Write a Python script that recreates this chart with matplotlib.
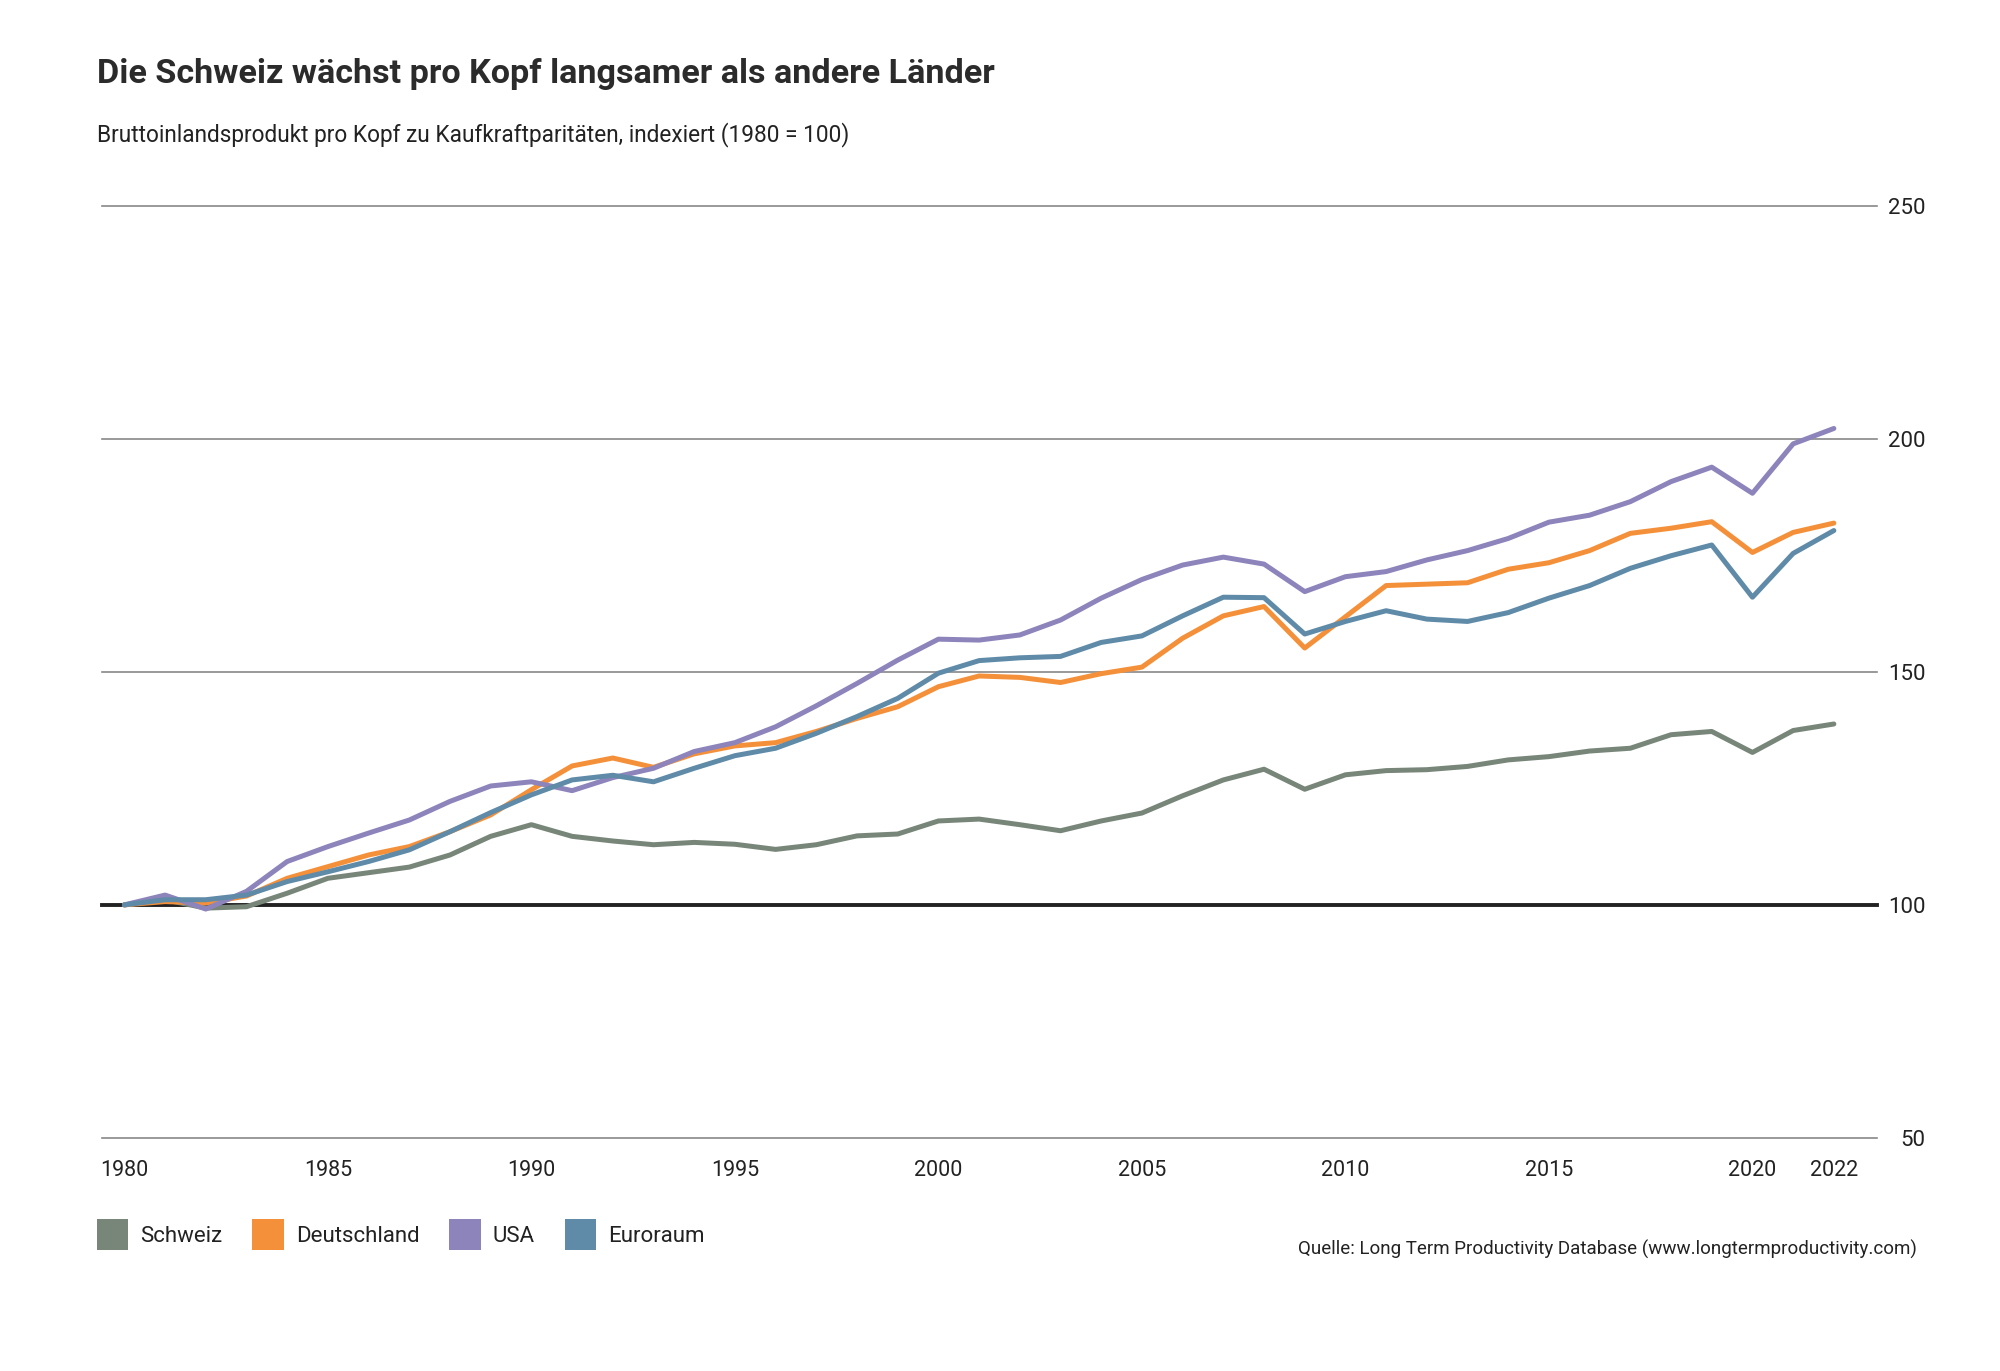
import matplotlib
matplotlib.use("Agg")
import matplotlib.pyplot as plt
from matplotlib.patches import Patch

plt.rcParams["font.family"] = ["Roboto", "DejaVu Sans"]

years = list(range(1980, 2023))

schweiz = [100, 101.1, 99.3, 99.6, 102.5, 105.7, 106.9, 108.1, 110.7, 114.7,
           117.2, 114.7, 113.7, 112.9, 113.4, 113.0, 111.9, 112.9, 114.8, 115.2,
           118.0, 118.4, 117.2, 115.9, 118.0, 119.7, 123.4, 126.8, 129.1, 124.8,
           127.9, 128.8, 129.0, 129.7, 131.1, 131.8, 133.0, 133.6, 136.5, 137.2,
           132.7, 137.4, 138.8]
deutschland = [100, 100.7, 100.4, 101.9, 105.7, 108.2, 110.7, 112.5, 115.7, 119.3,
               124.7, 129.8, 131.5, 129.5, 132.4, 134.1, 134.8, 137.2, 140.0, 142.5,
               146.8, 149.1, 148.8, 147.7, 149.6, 151.0, 157.2, 162.0, 164.0, 155.1,
               161.8, 168.5, 168.8, 169.1, 172.0, 173.4, 176.0, 179.7, 180.8, 182.2,
               175.6, 179.9, 181.9]
usa = [100, 102.1, 99.1, 102.9, 109.3, 112.5, 115.4, 118.2, 122.2, 125.5,
       126.4, 124.5, 127.3, 129.3, 132.9, 134.8, 138.2, 142.7, 147.5, 152.5,
       157.0, 156.8, 157.9, 161.1, 165.8, 169.8, 172.9, 174.6, 173.1, 167.2,
       170.4, 171.5, 174.0, 176.0, 178.6, 182.1, 183.6, 186.5, 190.8, 193.9,
       188.3, 198.9, 202.2]
euroraum = [100, 101.1, 101.1, 102.1, 105.0, 107.1, 109.3, 111.8, 115.7, 119.8,
            123.6, 126.8, 127.8, 126.4, 129.3, 132.0, 133.6, 136.8, 140.4, 144.3,
            149.7, 152.4, 153.0, 153.3, 156.3, 157.7, 162.0, 166.0, 165.9, 158.1,
            160.8, 163.1, 161.3, 160.8, 162.7, 165.8, 168.5, 172.2, 174.9, 177.2,
            166.0, 175.4, 180.3]

labels = ["Schweiz", "Deutschland", "USA", "Euroraum"]
colors = ["#78867a", "#f5903a", "#8d84bb", "#5f8ba8"]

x_ticks = [1980, 1985, 1990, 1995, 2000, 2005, 2010, 2015, 2020, 2022]
y_ticks = [50, 100, 150, 200, 250]

fig = plt.figure(figsize=(20, 13.71), dpi=100)
ax = fig.add_axes([0.051, 0.17, 0.8875, 0.68])

for v in y_ticks:
    if v == 100:
        ax.axhline(v, color="#222222", lw=2.8, zorder=1, clip_on=False)
    else:
        ax.axhline(v, color="#888888", lw=1.2, zorder=1, clip_on=False)

for series, c in zip([schweiz, deutschland, usa, euroraum], colors):
    ax.plot(years, series, color=c, lw=3.6, solid_capstyle="round",
            solid_joinstyle="round", zorder=3)

ax.set_xlim(1979.45, 2023.06)
ax.set_ylim(50, 250)
for s in ax.spines.values():
    s.set_visible(False)

ax.set_xticks(x_ticks)
ax.set_xticklabels([str(t) for t in x_ticks])
ax.tick_params(axis="x", length=0, pad=16, labelsize=15.5, labelcolor="#222222")

ax.yaxis.tick_right()
ax.set_yticks(y_ticks)
ax.set_yticklabels([str(t) for t in y_ticks])
ax.tick_params(axis="y", length=0, pad=35, labelsize=16, labelcolor="#222222")
for lab in ax.get_yticklabels():
    lab.set_horizontalalignment("right")

fig.text(0.0485, 1 - 83 / 1371, "Die Schweiz wächst pro Kopf langsamer als andere Länder",
         fontsize=24.6, fontweight="bold", color="#2b2b2b", va="baseline", ha="left")
fig.text(0.0485, 1 - 141 / 1371,
         "Bruttoinlandsprodukt pro Kopf zu Kaufkraftparitäten, indexiert (1980 = 100)",
         fontsize=16.3, color="#222222", va="baseline", ha="left")

handles = [Patch(facecolor=c, edgecolor="none", label=l) for c, l in zip(colors, labels)]
fig.legend(handles=handles, loc="upper left", bbox_to_anchor=(0.0485, 1 - 1219 / 1371),
           ncol=4, frameon=False, fontsize=16, handlelength=1.4, handleheight=1.78,
           handletextpad=0.55, columnspacing=1.35, borderpad=0, borderaxespad=0,
           labelcolor="#222222")

fig.text(1917 / 2000, 1 - 1249 / 1371,
         "Quelle: Long Term Productivity Database (www.longtermproductivity.com)",
         fontsize=13.5, color="#222222", ha="right", va="center")

fig.savefig("out.png", dpi=100, facecolor="white")
